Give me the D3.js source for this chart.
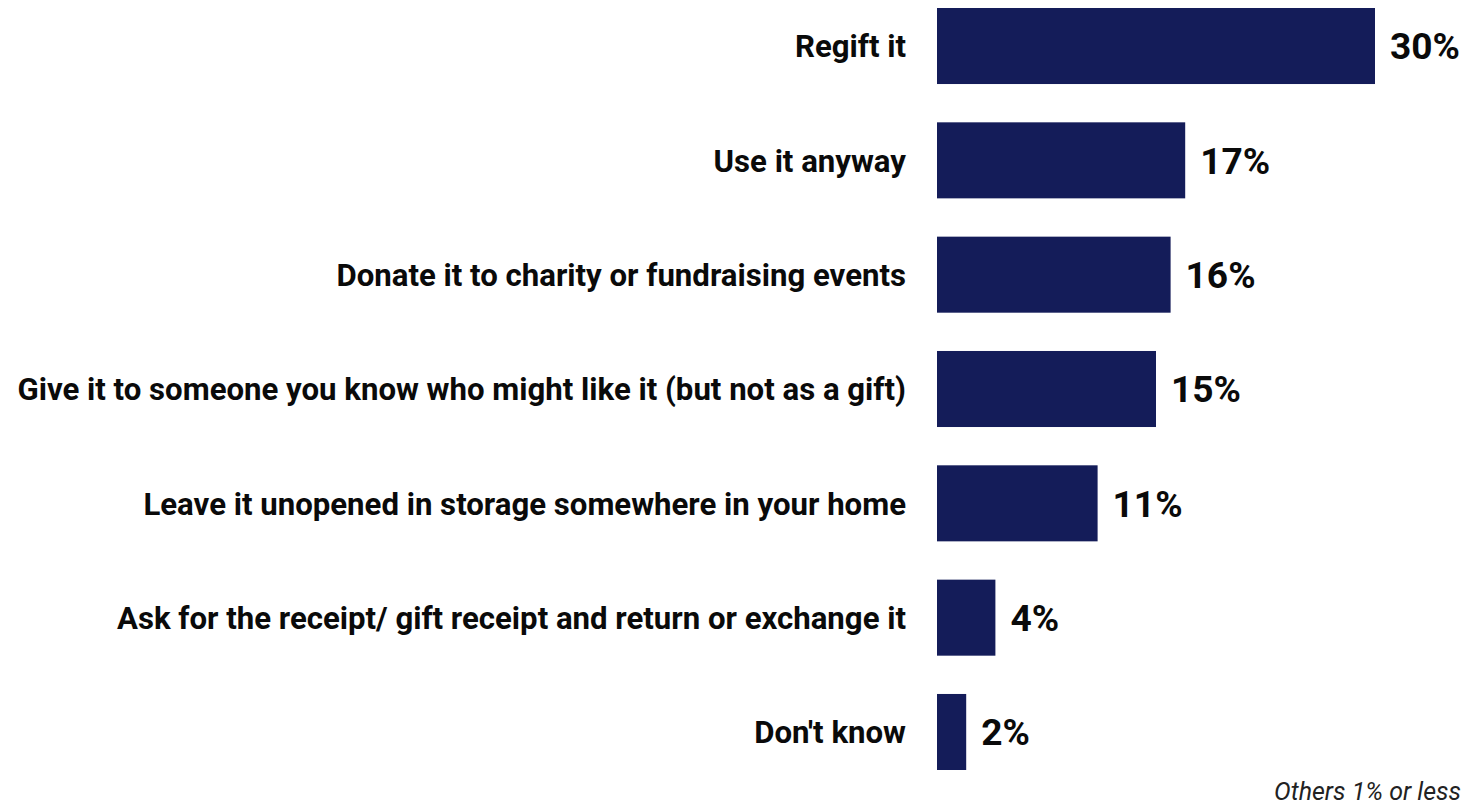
<!DOCTYPE html>
<html>
<head>
<meta charset="utf-8">
<script src="https://cdn.jsdelivr.net/npm/d3@7"></script>
<style>
  html, body { margin: 0; padding: 0; background: #ffffff; }
  svg { display: block; }
</style>
</head>
<body>
<svg id="chart" width="1463" height="805"></svg>
<script>
// What people do with an unwanted gift
const categories = [
  "Regift it",
  "Use it anyway",
  "Donate it to charity or fundraising events",
  "Give it to someone you know who might like it (but not as a gift)",
  "Leave it unopened in storage somewhere in your home",
  "Ask for the receipt/ gift receipt and return or exchange it",
  "Don't know"
];
const values = [30, 17, 16, 15, 11, 4, 2];
const valueLabels = ["30%", "17%", "16%", "15%", "11%", "4%", "2%"];
const footnote = "Others 1% or less";

const W = 1463, H = 805;
const barColor = "#141c59";
const fontFamily = "Roboto, 'Noto Sans', sans-serif";

const svg = d3.select("#chart");

const x = d3.scaleLinear().domain([0, 30]).range([937, 1375]);
const y = d3.scaleBand().domain(categories).range([8, 770])
  .paddingInner(0.335).paddingOuter(0);

// Bars
svg.append("g").selectAll("rect")
  .data(values)
  .join("rect")
  .attr("x", x(0))
  .attr("y", (d, i) => y(categories[i]))
  .attr("width", d => x(d) - x(0))
  .attr("height", y.bandwidth())
  .attr("fill", barColor);

// Category labels, right-aligned against the bars
const catLabels = svg.append("g").selectAll("text")
  .data(categories)
  .join("text")
  .attr("x", x(0) - 31)
  .attr("y", d => y(d) + y.bandwidth() / 2)
  .attr("dy", "0.36em")
  .attr("text-anchor", "end")
  .attr("font-family", fontFamily)
  .attr("font-weight", 700)
  .attr("font-size", 24)
  .attr("fill", "#0a0a0a")
  .text(d => d);

// Size the labels so the longest one spans the left margin
const longest = d3.max(catLabels.nodes(), n => n.getComputedTextLength());
catLabels.attr("font-size", (24 * 889 / longest).toFixed(2));

// Value labels at bar ends
const valLabels = svg.append("g").selectAll("text")
  .data(values)
  .join("text")
  .attr("x", d => x(d) + 15)
  .attr("y", (d, i) => y(categories[i]) + y.bandwidth() / 2)
  .attr("dy", "0.36em")
  .attr("font-family", fontFamily)
  .attr("font-weight", 700)
  .attr("font-size", 34)
  .attr("fill", "#0a0a0a")
  .text((d, i) => valueLabels[i]);
const w30 = valLabels.nodes()[0].getComputedTextLength();
valLabels.attr("font-size", (34 * 70 / w30).toFixed(2));

// Footnote
const note = svg.append("text")
  .attr("x", W - 2)
  .attr("y", 800)
  .attr("text-anchor", "end")
  .attr("font-family", fontFamily)
  .attr("font-style", "italic")
  .attr("font-size", 21)
  .attr("fill", "#222222")
  .text(footnote);
const wn = note.node().getComputedTextLength();
note.attr("font-size", (21 * 187 / wn).toFixed(2));
</script>
</body>
</html>
